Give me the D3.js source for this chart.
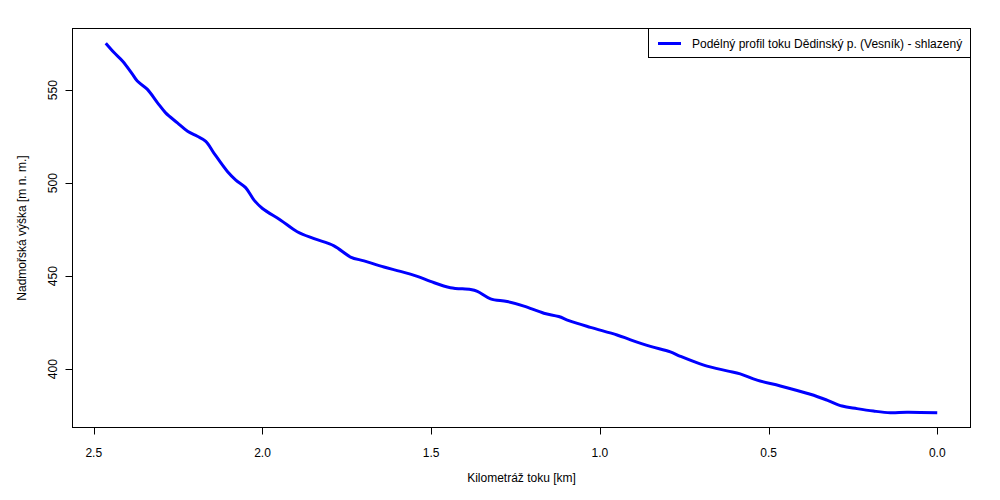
<!DOCTYPE html>
<html><head><meta charset="utf-8">
<script src="https://cdn.jsdelivr.net/npm/d3@7"></script>
<style>body{margin:0;background:#fff}svg{font-family:"Liberation Sans",Arial,sans-serif}</style>
</head><body><svg id="c" width="1000" height="500"></svg>
<script>
const km = [2.4645,2.440,2.415,2.385,2.371,2.341,2.311,2.287,2.252,2.222,2.193,2.168,2.144,2.104,2.079,2.050,2.025,2.000,1.946,1.897,1.847,1.788,1.739,1.699,1.640,1.591,1.541,1.502,1.443,1.383,1.363,1.324,1.275,1.225,1.166,1.122,1.092,1.028,0.949,0.909,0.850,0.791,0.761,0.692,0.623,0.584,0.534,0.465,0.376,0.327,0.282,0.238,0.189,0.139,0.090,0.000];
const elev = [575.2,570.2,565.7,558.5,554.9,550.4,543.2,537.8,532.4,527.9,525.2,522.5,516.2,506.3,501.7,497.6,490.9,486.4,480.1,473.9,470.2,466.3,460.3,458.2,454.9,452.6,449.9,447.2,443.8,442.8,441.8,437.8,436.4,433.9,430.1,428.3,426.1,422.5,418.4,415.8,412.3,409.3,406.9,402.2,399.1,397.5,394.1,391.0,386.5,383.4,380.2,378.8,377.5,376.6,376.9,376.6];
const xTicks = [2.5,2.0,1.5,1.0,0.5,0.0];
const yTicks = [400,450,500,550];
const xTickLabels = ["2.5","2.0","1.5","1.0","0.5","0.0"];
const yTickLabels = ["400","450","500","550"];
const seriesName = "Podélný profil toku Dědinský p. (Vesník) - shlazený";
const xTitle = "Kilometráž toku [km]";
const yTitle = "Nadmořská výška [m n. m.]";

const svg = d3.select("#c");
const L=72.5, R=970.5, T=28.5, B=427.5;
const xr = d3.extent(km), yr = d3.extent(elev);
const px = (xr[1]-xr[0])*0.04, py=(yr[1]-yr[0])*0.04;
const x = d3.scaleLinear().domain([xr[1]+px, xr[0]-px]).range([L,R]);
const y = d3.scaleLinear().domain([yr[0]-py, yr[1]+py]).range([B,T]);

// box
svg.append("rect").attr("x",L).attr("y",T).attr("width",R-L).attr("height",B-T)
  .attr("fill","none").attr("stroke","#000").attr("stroke-width",1);

// x axis
const gx = svg.append("g").attr("transform",`translate(0,${B})`);
gx.append("line").attr("x1",x(2.5)).attr("x2",x(0)).attr("stroke","#000");
gx.selectAll("line.t").data(xTicks).join("line").attr("class","t")
  .attr("x1",d=>Math.round(x(d))+0.5).attr("x2",d=>Math.round(x(d))+0.5).attr("y1",0).attr("y2",7).attr("stroke","#000");
gx.selectAll("text").data(xTicks).join("text")
  .attr("x",d=>x(d)).attr("y",29).attr("text-anchor","middle").attr("font-size",12)
  .text((d,i)=>xTickLabels[i]);

// y axis
const gy = svg.append("g").attr("transform",`translate(${L},0)`);
gy.append("line").attr("y1",y(400)).attr("y2",y(550)).attr("stroke","#000");
gy.selectAll("line.t").data(yTicks).join("line").attr("class","t")
  .attr("y1",d=>Math.round(y(d))+0.5).attr("y2",d=>Math.round(y(d))+0.5).attr("x1",0).attr("x2",-7).attr("stroke","#000");
gy.selectAll("text").data(yTicks).join("text")
  .attr("transform",d=>`translate(-16,${y(d)}) rotate(-90)`).attr("text-anchor","middle").attr("font-size",12)
  .text((d,i)=>yTickLabels[i]);

// titles
svg.append("text").attr("x",(L+R)/2).attr("y",482).attr("text-anchor","middle").attr("font-size",12).text(xTitle);
svg.append("text").attr("transform",`translate(26,${(T+B)/2}) rotate(-90)`).attr("text-anchor","middle").attr("font-size",12).text(yTitle);

// line
const data = km.map((k,i)=>[k,elev[i]]);
svg.append("path").datum(data)
  .attr("d", d3.line().x(d=>x(d[0])).y(d=>y(d[1])).curve(d3.curveCatmullRom.alpha(0.5)))
  .attr("fill","none").attr("stroke","#0000ff").attr("stroke-width",3).attr("stroke-linejoin","round").attr("stroke-linecap","butt");

// legend
const lg = svg.append("g");
lg.append("rect").attr("x",648.5).attr("y",28.5).attr("width",R-648.5).attr("height",29).attr("fill","#fff").attr("stroke","#000");
lg.append("line").attr("x1",658).attr("x2",681).attr("y1",43.5).attr("y2",43.5).attr("stroke","#0000ff").attr("stroke-width",3);
lg.append("text").attr("x",692).attr("y",47.5).attr("font-size",12).text(seriesName);
</script></body></html>
